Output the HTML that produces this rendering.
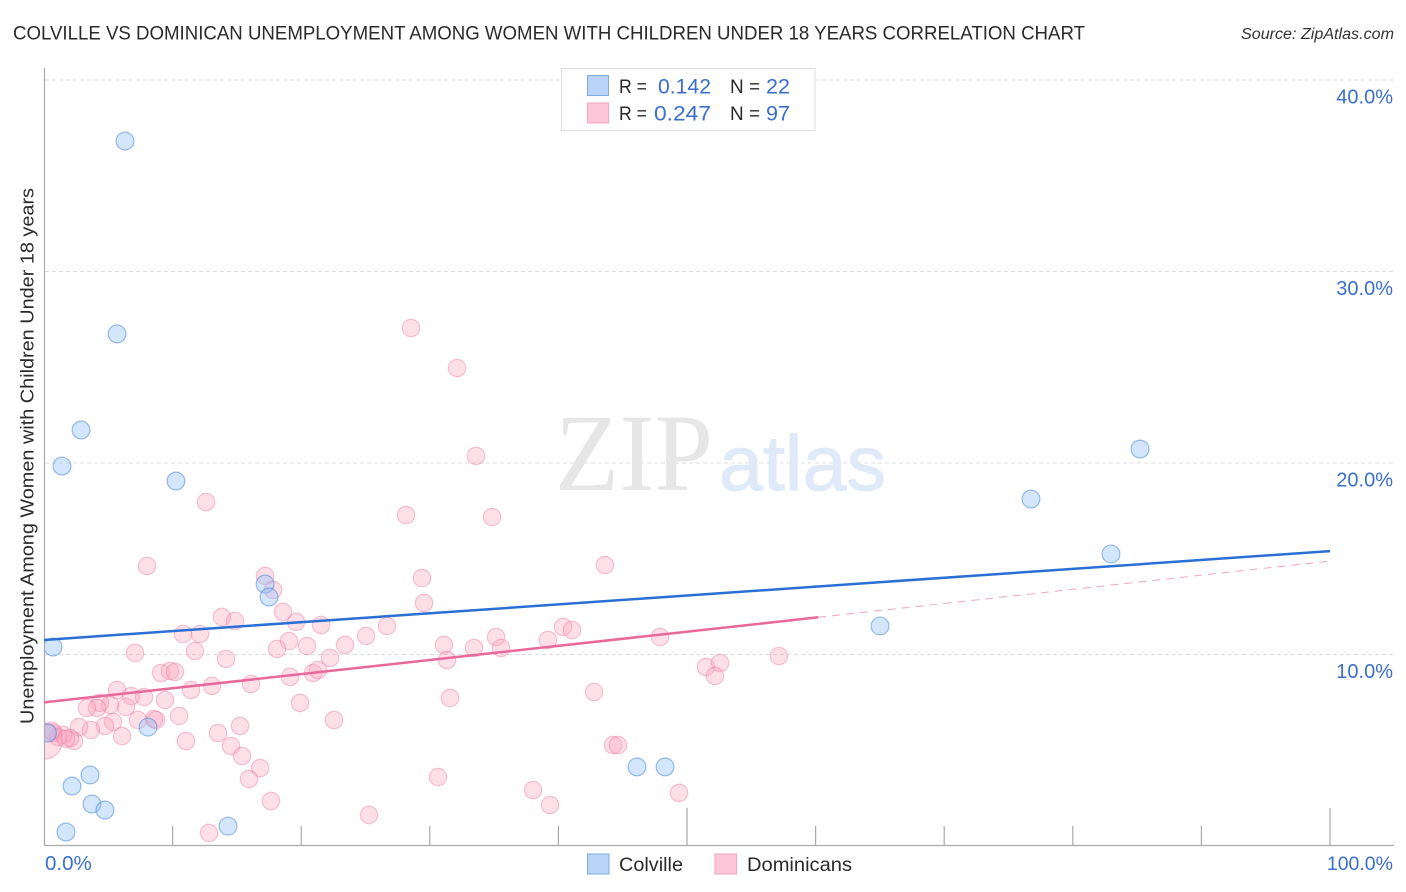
<!DOCTYPE html>
<html lang="en">
<head>
<meta charset="utf-8">
<title>Colville vs Dominican Unemployment Correlation Chart</title>
<style>
html,body{margin:0;padding:0;background:#fff;width:1406px;height:892px;overflow:hidden}
svg{display:block;font-family:"Liberation Sans",sans-serif}
</style>
</head>
<body>
<svg id="chart" xmlns="http://www.w3.org/2000/svg" width="1406" height="892" viewBox="0 0 1406 892">
  <defs><clipPath id="plot-clip"><rect x="45" y="60" width="1361" height="786"/></clipPath></defs>
  <rect width="1406" height="892" fill="#fff"/>
  <text x="13" y="39.5" font-size="19.5" fill="#2a2a2a" textLength="1072" lengthAdjust="spacingAndGlyphs">COLVILLE VS DOMINICAN UNEMPLOYMENT AMONG WOMEN WITH CHILDREN UNDER 18 YEARS CORRELATION CHART</text>
  <text x="1241" y="39" font-size="15.5" font-style="italic" fill="#333" textLength="153" lengthAdjust="spacingAndGlyphs">Source: ZipAtlas.com</text>
  <g id="grid"></g>
  <g>
    <text x="555" y="490" font-size="110" font-family="'Liberation Serif',serif" fill="#e6e6e6" textLength="158" lengthAdjust="spacingAndGlyphs">ZIP</text>
    <text x="719" y="490" font-size="78" fill="#dfe9f8" stroke="#dfe9f8" stroke-width="1" textLength="167" lengthAdjust="spacingAndGlyphs">atlas</text>
  </g>
  <g id="axes"></g>
  <g id="points" clip-path="url(#plot-clip)"></g>
  <g id="trends"></g>
  <text transform="translate(33.5,724) rotate(-90)" font-size="18.5" fill="#2a2a2a" textLength="536" lengthAdjust="spacingAndGlyphs">Unemployment Among Women with Children Under 18 years</text>
  <g>
    <rect x="561.5" y="68.5" width="253.5" height="62" fill="#fff" stroke="#ddd"/>
    <rect x="587.5" y="75.5" width="21" height="20" fill="#b9d4f8" stroke="#7fabe2"/>
    <rect x="587.5" y="103" width="21" height="20" fill="#fdc7d9" stroke="#f3a6c0"/>
    <g font-size="19.5" fill="#2a2a2a">
      <text x="619" y="93" textLength="28" lengthAdjust="spacingAndGlyphs">R =</text>
      <text x="730" y="93" textLength="30" lengthAdjust="spacingAndGlyphs">N =</text>
      <text x="619" y="120" textLength="28" lengthAdjust="spacingAndGlyphs">R =</text>
      <text x="730" y="120" textLength="30" lengthAdjust="spacingAndGlyphs">N =</text>
    </g>
    <g font-size="21" fill="#3a6fcb">
      <text x="658" y="93.5" textLength="53" lengthAdjust="spacingAndGlyphs">0.142</text>
      <text x="766" y="93.5" textLength="24" lengthAdjust="spacingAndGlyphs">22</text>
      <text x="654" y="120.5" textLength="57" lengthAdjust="spacingAndGlyphs">0.247</text>
      <text x="766" y="120.5" textLength="24" lengthAdjust="spacingAndGlyphs">97</text>
    </g>
  </g>
  <g>
    <rect x="587.5" y="854" width="21.5" height="20" fill="#b9d4f8" stroke="#7fabe2"/>
    <text x="619" y="871" font-size="19.5" fill="#2a2a2a" textLength="64" lengthAdjust="spacingAndGlyphs">Colville</text>
    <rect x="715" y="854" width="21.5" height="20" fill="#fdc7d9" stroke="#f3a6c0"/>
    <text x="747" y="871" font-size="19.5" fill="#2a2a2a" textLength="105" lengthAdjust="spacingAndGlyphs">Dominicans</text>
  </g>
</svg>
<script>
const xTicks = [10, 20, 30, 40, 50, 60, 70, 80, 90, 100];
const yTicks = [10, 20, 30, 40];
const yTickLabels = ["10.0%", "20.0%", "30.0%", "40.0%"];
const xEdgeLabels = ["0.0%", "100.0%"];

const colvilleX = [6.30,5.68,2.88,1.40,10.26,85.23,76.75,82.97,17.19,17.50,65.01,0.70,8.09,0.27,3.58,2.18,3.73,4.74,1.71,14.31,46.11,48.29];
const colvilleY = [36.81,26.74,21.72,19.84,19.06,20.73,18.12,15.25,13.68,13.00,11.49,10.39,6.21,5.90,3.71,3.13,2.19,1.88,0.73,1.04,4.13,4.13];

const dominicansX = [28.54,32.12,33.59,12.60,28.15,34.84,8.01,43.62,17.19,17.81,29.39,29.55,18.58,13.84,14.85,19.60,21.54,40.36,41.06,26.67,10.81,12.13,35.15,39.19,47.90,19.05,18.12,20.45,23.41,25.04,31.10,35.54,33.44,31.34,11.74,7.08,14.15,22.24,57.15,51.48,52.57,52.18,9.10,9.80,10.19,19.13,20.92,21.31,13.06,11.43,16.10,19.91,31.57,22.55,42.77,5.68,6.77,7.78,9.41,10.50,8.55,8.71,7.31,5.37,6.38,5.13,4.35,4.12,3.34,4.74,3.65,2.72,6.07,11.04,13.53,15.24,14.54,15.40,16.80,15.94,17.65,12.83,25.27,30.64,38.03,39.35,49.38,44.25,44.63,2.33,2.02,1.48,1.09,0.70,0.00,0.62,1.71];
const dominicansY = [27.05,24.96,20.37,17.96,17.28,17.18,14.62,14.67,14.10,13.37,13.99,12.69,12.22,11.96,11.75,11.70,11.54,11.44,11.28,11.49,11.07,11.07,10.91,10.76,10.91,10.70,10.29,10.44,10.50,10.97,10.50,10.34,10.34,9.71,10.18,10.08,9.77,9.82,9.92,9.35,9.56,8.88,9.03,9.14,9.09,8.83,9.03,9.19,8.36,8.15,8.46,7.47,7.73,6.58,8.04,8.15,7.83,7.78,7.62,6.79,6.63,6.58,6.58,6.48,7.26,7.36,7.47,7.21,7.21,6.27,6.06,6.21,5.74,5.48,5.90,6.27,5.22,4.70,4.07,3.50,2.35,0.68,1.62,3.60,2.92,2.14,2.77,5.27,5.27,5.48,5.64,5.80,5.69,5.90,5.48,6.01,5.59];
const dominicansWeight = [1,1,1,1,1,1,1,1,1,1,1,1,1,1,1,1,1,1,1,1,1,1,1,1,1,1,1,1,1,1,1,1,1,1,1,1,1,1,1,1,1,1,1,1,1,1,1,1,1,1,1,1,1,1,1,1,1,1,1,1,1,1,1,1,1,1,1,1,1,1,1,1,1,1,1,1,1,1,1,1,1,1,1,1,1,1,1,1,1,1,1,1,1,1,2.1,1,1];

const colvilleTrend = [10.76, 15.40];
const dominicansTrend = [7.50, 14.88];
const dominicansSolidEnd = [60.2];

const NS = 'http://www.w3.org/2000/svg';
const xScale = v => 44 + v * 12.86;
const yScale = v => 846 - v * 19.15;
const lineAt = (t, x) => t[0] + (t[1] - t[0]) * x / 100;

function mk(parent, tag, attrs, text) {
  const el = document.createElementNS(NS, tag);
  for (const k in attrs) el.setAttribute(k, attrs[k]);
  if (text !== undefined) el.textContent = text;
  parent.appendChild(el);
  return el;
}

const grid = document.getElementById('grid');
const axes = document.getElementById('axes');
const points = document.getElementById('points');
const trends = document.getElementById('trends');

yTicks.forEach((v, i) => {
  const g = mk(grid, 'line', {x1: 45, x2: 1394, y1: yScale(v), y2: yScale(v), stroke: '#dcdcdc', 'stroke-width': 1, 'stroke-dasharray': '4 3'});
  
  
  const t = mk(axes, 'text', {x: 1393, y: yScale(v) + 23.5, 'text-anchor': 'end', 'font-size': 20, fill: '#3a6fcb'}, yTickLabels[i]);
  
  
});

const yAxis = mk(axes, 'line', {x1: 44.5, x2: 44.5, y1: 68, y2: 846, stroke: '#aaa', 'stroke-width': 1.2});


const xAxis = mk(axes, 'line', {x1: 44, x2: 1394, y1: 845.5, y2: 845.5, stroke: '#aaa', 'stroke-width': 1.2});



xTicks.forEach(v => {
  const top = v % 50 === 0 ? 808 : 826;
  const tick = mk(axes, 'line', {x1: xScale(v), x2: xScale(v), y1: top, y2: 845.5, stroke: '#aaa', 'stroke-width': 1.2});
  
  
});

const xl0 = mk(axes, 'text', {x: 45, y: 870, 'font-size': 20.5, fill: '#3a6fcb'}, xEdgeLabels[0]);


const xl1 = mk(axes, 'text', {x: 1393, y: 870, 'text-anchor': 'end', 'font-size': 19.5, fill: '#3a6fcb'}, xEdgeLabels[1]);



dominicansX.forEach((v, i) => {
  const c = mk(points, 'circle', {cx: xScale(v), cy: yScale(dominicansY[i]), r: 8.7 * dominicansWeight[i], fill: 'rgba(249,165,192,.36)', stroke: 'rgba(233,120,160,.42)', 'stroke-width': 1.2});
  
  
});
colvilleX.forEach((v, i) => {
  const c = mk(points, 'circle', {cx: xScale(v), cy: yScale(colvilleY[i]), r: 8.9, fill: 'rgba(150,195,245,.42)', stroke: 'rgba(60,125,215,.5)', 'stroke-width': 1.2});
  
  
});

const blueLine = mk(trends, 'line', {x1: xScale(0), y1: yScale(lineAt(colvilleTrend, 0)), x2: xScale(100), y2: yScale(lineAt(colvilleTrend, 100)), stroke: '#2a70d4', 'stroke-width': 2.5});


const pinkLine = mk(trends, 'line', {x1: xScale(0), y1: yScale(lineAt(dominicansTrend, 0)), x2: xScale(dominicansSolidEnd[0]), y2: yScale(lineAt(dominicansTrend, dominicansSolidEnd[0])), stroke: '#e8689a', 'stroke-width': 2.5});


const pinkDash = mk(trends, 'line', {x1: xScale(dominicansSolidEnd[0]), y1: yScale(lineAt(dominicansTrend, dominicansSolidEnd[0])), x2: xScale(100), y2: yScale(lineAt(dominicansTrend, 100)), stroke: '#eea6c0', 'stroke-width': 1, 'stroke-dasharray': '8 6'});


</script>
</body>
</html>
